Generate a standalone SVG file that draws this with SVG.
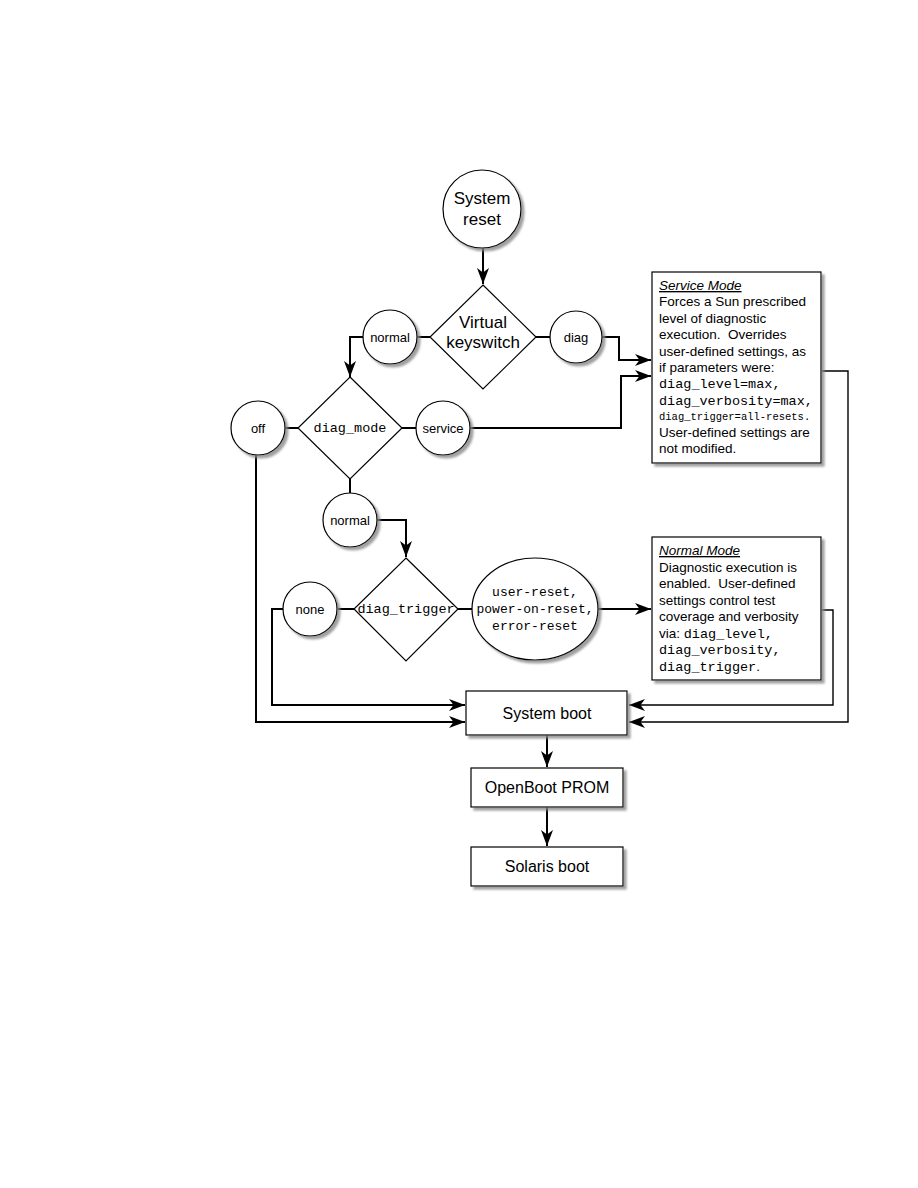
<svg xmlns="http://www.w3.org/2000/svg" width="918" height="1188" viewBox="0 0 918 1188">
<style>
.shape{fill:#fff;stroke:#000;stroke-width:1.2}
.sh{filter:url(#ds)}
.conn{fill:none;stroke:#000;stroke-width:2}
.thin{fill:none;stroke:#000;stroke-width:1.4}
.sans{font-family:"Liberation Sans",Arial,sans-serif;fill:#000}
.mono{font-family:"Liberation Mono","Courier New",monospace;fill:#000}
.big{font-size:17px;text-anchor:middle}
.lbl{font-size:13px;text-anchor:middle}
.box{font-size:16px;text-anchor:middle}
.note{font-size:13.5px}
.title{font-style:italic;text-decoration:underline}
</style>
<defs>
<filter id="ds" x="-20%" y="-20%" width="140%" height="140%">
<feDropShadow dx="3" dy="3" stdDeviation="1.2" flood-color="#888" flood-opacity="0.8"/>
</filter>
<marker id="ah" markerUnits="userSpaceOnUse" markerWidth="17" markerHeight="12" refX="16" refY="6" orient="auto">
<path d="M0,0 L16,6 L0,12 L4.5,6 z" fill="#000"/>
</marker>
</defs>
<rect width="918" height="1188" fill="#fff"/>

<g id="connectors">
<path class="conn" d="M483,248 V284" marker-end="url(#ah)"/>
<path class="conn" d="M430,337 H417"/>
<path class="conn" d="M363,337 H350 V377" marker-end="url(#ah)"/>
<path class="conn" d="M536,337 H551"/>
<path class="conn" d="M602,337 H619 V360 H651" marker-end="url(#ah)"/>
<path class="conn" d="M298,428 H285"/>
<path class="conn" d="M402,428 H416"/>
<path class="conn" d="M470,428 H621 V376 H651" marker-end="url(#ah)"/>
<path class="conn" d="M256,455 V722 H465" marker-end="url(#ah)"/>
<path class="conn" d="M350,479 V493"/>
<path class="conn" d="M377,520 H406 V557" marker-end="url(#ah)"/>
<path class="conn" d="M354,609 H338"/>
<path class="conn" d="M283,609 H272 V705 H465" marker-end="url(#ah)"/>
<path class="conn" d="M458,609 H472"/>
<path class="conn" d="M598,609 H651" marker-end="url(#ah)"/>
<path class="thin" d="M822,610 H833 V705 H629" marker-end="url(#ah)"/>
<path class="thin" d="M822,371 H848 V722 H629" marker-end="url(#ah)"/>
<path class="conn" d="M547,735 V767" marker-end="url(#ah)"/>
<path class="conn" d="M547,807 V846" marker-end="url(#ah)"/>
</g>

<g id="system-reset">
<circle class="shape sh" cx="482" cy="209" r="39"/>
<text class="sans big" x="482" y="204">System</text>
<text class="sans big" x="482" y="225">reset</text>
</g>

<g id="virtual-keyswitch">
<polygon class="shape" points="483,285 536,337 483,389 430,337"/>
<text class="sans big" x="483" y="328">Virtual</text>
<text class="sans big" x="483" y="348">keyswitch</text>
</g>

<g id="normal-1">
<circle class="shape sh" cx="390" cy="337" r="27"/>
<text class="sans lbl" x="390" y="342">normal</text>
</g>

<g id="diag">
<circle class="shape sh" cx="576" cy="337" r="26"/>
<text class="sans lbl" x="576" y="342">diag</text>
</g>

<g id="service-mode">
<rect class="shape sh" x="652" y="272" width="169" height="191"/>
<text class="sans note title" x="659" y="290">Service Mode</text>
<text class="sans note" x="659" y="306">Forces a Sun prescribed</text>
<text class="sans note" x="659" y="322.5">level of diagnostic</text>
<text class="sans note" x="659" y="339" xml:space="preserve">execution.  Overrides</text>
<text class="sans note" x="659" y="355.5">user-defined settings, as</text>
<text class="sans note" x="659" y="372">if parameters were:</text>
<text class="mono" font-size="13.5" x="659" y="388">diag_level=max,</text>
<text class="mono" font-size="13.5" x="659" y="404.5">diag_verbosity=max,</text>
<text class="mono" font-size="10.5" x="659" y="420">diag_trigger=all-resets.</text>
<text class="sans note" x="659" y="437">User-defined settings are</text>
<text class="sans note" x="659" y="453">not modified.</text>
</g>

<g id="diag-mode">
<polygon class="shape" points="350,377 402,428 350,479 298,428"/>
<text class="mono" font-size="13.5" text-anchor="middle" x="350" y="432">diag_mode</text>
</g>

<g id="off">
<circle class="shape sh" cx="258" cy="428" r="27"/>
<text class="sans lbl" x="258" y="433">off</text>
</g>

<g id="service">
<circle class="shape sh" cx="443" cy="428" r="27"/>
<text class="sans lbl" x="443" y="433">service</text>
</g>

<g id="normal-2">
<circle class="shape sh" cx="350" cy="520" r="27"/>
<text class="sans lbl" x="350" y="525">normal</text>
</g>

<g id="diag-trigger">
<polygon class="shape" points="406,558 458,609 406,661 354,609"/>
<text class="mono" font-size="13.5" text-anchor="middle" x="406" y="613">diag_trigger</text>
</g>

<g id="none">
<circle class="shape sh" cx="310" cy="609" r="27"/>
<text class="sans lbl" x="310" y="614">none</text>
</g>

<g id="resets">
<ellipse class="shape sh" cx="535" cy="609" rx="63" ry="51"/>
<text class="mono" font-size="13" text-anchor="middle" x="535" y="596">user-reset,</text>
<text class="mono" font-size="13" text-anchor="middle" x="535" y="613">power-on-reset,</text>
<text class="mono" font-size="13" text-anchor="middle" x="535" y="630">error-reset</text>
</g>

<g id="normal-mode">
<rect class="shape sh" x="652" y="537" width="169" height="143"/>
<text class="sans note title" x="659" y="555">Normal Mode</text>
<text class="sans note" x="659" y="571.5">Diagnostic execution is</text>
<text class="sans note" x="659" y="588" xml:space="preserve">enabled.  User-defined</text>
<text class="sans note" x="659" y="604.5">settings control test</text>
<text class="sans note" x="659" y="621">coverage and verbosity</text>
<text class="sans note" x="659" y="637.5">via: <tspan class="mono" font-size="13.5">diag_level,</tspan></text>
<text class="mono" font-size="13.5" x="659" y="654">diag_verbosity,</text>
<text class="mono" font-size="13.5" x="659" y="670.5">diag_trigger<tspan class="sans">.</tspan></text>
</g>

<g id="system-boot">
<rect class="shape sh" x="466" y="691" width="161" height="44"/>
<text class="sans box" x="547" y="719">System boot</text>
</g>

<g id="openboot-prom">
<rect class="shape sh" x="471" y="768" width="152" height="39"/>
<text class="sans box" x="547" y="793">OpenBoot PROM</text>
</g>

<g id="solaris-boot">
<rect class="shape sh" x="471" y="847" width="152" height="39"/>
<text class="sans box" x="547" y="872">Solaris boot</text>
</g>
</svg>
